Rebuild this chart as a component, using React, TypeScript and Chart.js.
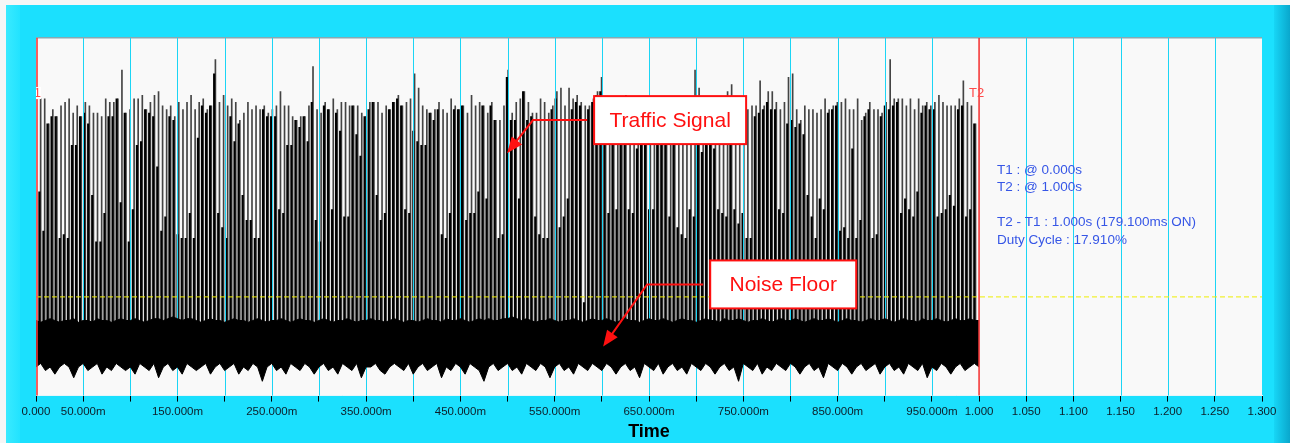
import React, { useEffect, useRef } from "react";
import { Chart, registerables } from "chart.js";

Chart.register(...registerables);

// ---------- data ----------
// pulse times (ms)
const pulseTimes = [
  4.4, 8.7, 13.0, 17.3, 21.6, 26.0, 30.3, 34.6, 38.9, 43.2,
  47.5, 51.8, 56.1, 60.4, 64.7, 69.1, 73.4, 77.7, 82.0, 86.3,
  90.6, 94.9, 99.2, 103.5, 107.8, 112.2, 116.5, 120.8, 125.1, 129.4,
  133.7, 138.0, 142.3, 146.6, 150.9, 155.3, 159.6, 163.9, 168.2, 172.5,
  176.8, 181.1, 185.4, 189.7, 194.0, 198.4, 202.7, 207.0, 211.3, 215.6,
  219.9, 224.2, 228.5, 232.8, 237.1, 241.5, 245.8, 250.1, 254.4, 258.7,
  263.0, 267.3, 271.6, 275.9, 280.2, 284.6, 288.9, 293.2, 297.5, 301.8,
  306.1, 310.4, 314.7, 319.0, 323.3, 327.7, 332.0, 336.3, 340.6, 344.9,
  349.2, 353.5, 357.8, 362.1, 366.4, 370.8, 375.1, 379.4, 383.7, 388.0,
  392.3, 396.6, 400.9, 405.2, 409.5, 413.9, 418.2, 422.5, 426.8, 431.1,
  435.4, 439.7, 444.0, 448.3, 452.6, 457.0, 461.3, 465.6, 469.9, 474.2,
  478.5, 482.8, 487.1, 491.4, 495.7, 500.1, 504.4, 508.7, 513.0, 517.3,
  521.6, 525.9, 530.2, 534.5, 538.8, 543.2, 547.5, 551.8, 556.1, 560.4,
  564.7, 569.0, 573.3, 577.6, 581.9, 586.3, 590.6, 594.9, 599.2, 603.5,
  607.8, 612.1, 616.4, 620.7, 625.0, 629.4, 633.7, 638.0, 642.3, 646.6,
  650.9, 655.2, 659.5, 663.8, 668.1, 672.5, 676.8, 681.1, 685.4, 689.7,
  694.0, 698.3, 702.6, 706.9, 711.2, 715.6, 719.9, 724.2, 728.5, 732.8,
  737.1, 741.4, 745.7, 750.0, 754.3, 758.7, 763.0, 767.3, 771.6, 775.9,
  780.2, 784.5, 788.8, 793.1, 797.4, 801.8, 806.1, 810.4, 814.7, 819.0,
  823.3, 827.6, 831.9, 836.2, 840.5, 844.9, 849.2, 853.5, 857.8, 862.1,
  866.4, 870.7, 875.0, 879.3, 883.6, 888.0, 892.3, 896.6, 900.9, 905.2,
  909.5, 913.8, 918.1, 922.4, 926.7, 931.1, 935.4, 939.7, 944.0, 948.3,
  952.6, 956.9, 961.2, 965.5, 969.8, 974.2, 978.5, 982.8, 987.1, 991.4,
  995.7,
];

// peak level of each pulse (thin trace)
const pulsePeaks = [
  83, 83, 76, 80, 78, 81, 82, 83, 79, 81,
  78, 82, 81, 79, 79, 78, 83, 82, 82, 83,
  91, 79, 80, 83, 83, 84, 80, 82, 84, 85,
  81, 80, 81, 78, 82, 80, 82, 84, 80, 82,
  83, 80, 81, 94, 82, 84, 81, 83, 82, 77,
  79, 82, 80, 81, 80, 81, 79, 80, 81, 85,
  81, 81, 78, 77, 78, 78, 81, 92, 80, 79,
  82, 80, 83, 80, 82, 82, 81,
  81, 81, 79, 78, 82, 82, 82, 79, 81, 80,
  82, 84, 81, 82, 83, 90, 86, 81, 80, 79,
  80, 82, 80, 79, 83, 81, 80, 81, 79, 84,
  81, 82, 81, 79, 82, 77, 77, 81, 91, 79,
  82, 83, 85, 82, 79, 79, 83, 82, 79, 81,
  85, 86, 81, 86, 83, 84, 82, 81, 81, 83, 85, 89,
  82, 81, 83, 80, 82, 84, 81, 80, 82, 83, 81, 82, 80, 83, 81,
  82, 81, 83, 80, 82, 81, 83, 91, 86, 82, 81, 83, 80, 82, 81, 85, 87, 82, 80,
  82, 80, 81, 81, 88, 81, 85, 85, 82, 80,
  82, 89, 90, 80, 77, 81, 80, 80, 79, 80,
  83, 80, 81, 82, 82, 83, 80, 80, 83, 77,
  79, 82, 80, 80, 79, 82, 94, 83, 83, 83,
  81, 83, 80, 83, 81, 82, 81, 82, 84, 82,
  81, 81, 81, 83, 88, 82, 81, 76,
];

// level of the solid body of each pulse
const pulseBodies = [
  57, 46, 76, 78, 78, 44, 45, 44, 70, 70,
  78, 79, 76, 56, 43, 43, 51, 78, 78, 83,
  54, 79, 43, 52, 70, 71, 80, 79, 78, 64,
  46, 50, 78, 77, 45, 44, 44, 51, 44, 72,
  81, 79, 81, 90, 51, 47, 44, 78, 71, 76,
  56, 49, 49, 44, 44, 80, 78, 78, 78, 52,
  51, 70, 70, 77, 75, 78, 71, 82, 49, 43,
  81, 80, 52, 79, 74, 50, 50,
  81, 73, 67, 78, 80, 82, 56, 49, 51, 80,
  82, 83, 81, 52, 51, 74, 71, 70, 70, 79,
  77, 80, 45, 44, 51, 80, 80, 81, 49, 51,
  51, 57, 81, 55, 81, 77, 44, 45, 89, 77,
  77, 55, 85, 77, 78, 50, 45, 44, 44, 80,
  83, 47, 50, 55, 80, 82, 81, 26, 80, 82, 84, 85,
  70, 51, 70, 52, 70, 71, 52, 51, 69, 70, 70, 52, 52, 70, 71,
  70, 50, 70, 47, 45, 44, 52, 50, 83, 68, 70, 71, 69, 52, 51, 50, 77, 52, 48,
  51, 44, 44, 78, 79, 80, 82, 80, 80, 52,
  51, 76, 77, 75, 76, 73, 56, 50, 44, 55,
  52, 79, 80, 81, 46, 47, 44, 69, 44, 49,
  78, 80, 44, 45, 78, 81, 80, 81, 82, 51,
  55, 52, 50, 57, 79, 81, 80, 80, 50, 51,
  52, 56, 53, 80, 81, 50, 52, 76,
];

const signalBase = 15;

// noise floor envelope, sampled every 5 ms
const noiseTimes = [
  0, 5, 10, 15, 20, 25, 30, 35, 40, 45, 50, 55, 60, 65, 70, 75, 80, 85, 90, 95,
  100, 105, 110, 115, 120, 125, 130, 135, 140, 145, 150, 155, 160, 165, 170, 175, 180, 185, 190, 195,
  200, 205, 210, 215, 220, 225, 230, 235, 240, 245, 250, 255, 260, 265, 270, 275, 280, 285, 290, 295,
  300, 305, 310, 315, 320, 325, 330, 335, 340, 345, 350, 355, 360, 365, 370, 375, 380, 385, 390, 395,
  400, 405, 410, 415, 420, 425, 430, 435, 440, 445, 450, 455, 460, 465, 470, 475, 480, 485, 490, 495,
  500, 505, 510, 515, 520, 525, 530, 535, 540, 545, 550, 555, 560, 565, 570, 575, 580, 585, 590, 595,
  600, 605, 610, 615, 620, 625, 630, 635, 640, 645, 650, 655, 660, 665, 670, 675, 680, 685, 690, 695,
  700, 705, 710, 715, 720, 725, 730, 735, 740, 745, 750, 755, 760, 765, 770, 775, 780, 785, 790, 795,
  800, 805, 810, 815, 820, 825, 830, 835, 840, 845, 850, 855, 860, 865, 870, 875, 880, 885, 890, 895,
  900, 905, 910, 915, 920, 925, 930, 935, 940, 945, 950, 955, 960, 965, 970, 975, 980, 985, 990, 995,
  1000,
];
const noiseHigh = [
  21, 20.5, 21, 21.5, 21, 20.5, 21, 21, 21.5, 20.5, 21, 21, 20.5, 21.5, 21, 21, 20.5, 21, 21.5, 21,
  21, 21.5, 21, 20.5, 21, 21.5, 21.5, 21, 21.5, 22, 21.5, 21, 21.5, 21.5, 21, 20.5, 21, 21.5, 21, 21,
  20.5, 21, 21.5, 21, 21, 20.5, 21, 21.5, 21, 20.5, 21, 21, 21.5, 21, 20.5, 21, 21.5, 21, 21, 20.5,
  21, 21.5, 21, 20.5, 21, 21, 21.5, 21, 20.5, 21, 21, 21.5, 21, 21, 20.5, 21, 21.5, 21, 20.5, 21,
  21, 20.5, 21, 21.5, 21, 21, 20.5, 21.5, 21, 21, 21.5, 21, 20.5, 21, 21.5, 21, 21.5, 21, 21, 21.5,
  21.5, 22, 21.5, 21, 21.5, 21, 20.5, 21, 21, 21.5, 21, 20.5, 21, 21, 21.5, 21, 20.5, 21, 21.5, 21,
  21, 21.5, 21, 20.5, 21, 21.5, 21, 21, 20.5, 21, 21.5, 21, 21, 21.5, 21, 20.5, 21, 21.5, 21, 21,
  20.5, 21, 21.5, 21, 21, 20.5, 21.5, 21, 21, 21.5, 21, 20.5, 21, 21, 21.5, 21, 20.5, 21, 21.5, 21,
  21, 21.5, 21, 20.5, 21, 21.5, 21, 21, 21.5, 21, 20.5, 21, 21.5, 21, 21, 20.5, 21, 21.5, 21, 21,
  21.5, 21, 20.5, 21, 21.5, 21, 21, 20.5, 21.5, 21, 21, 21.5, 21, 20.5, 21, 21.5, 21, 21, 21.5, 21,
  21,
];
const noiseLow = [
  8, 9, 7, 8, 6, 8, 9, 8, 5, 8, 9, 7, 8, 9, 6, 8, 7, 9, 8, 7,
  8, 6, 9, 8, 7, 9, 5, 8, 9, 7, 8, 6, 9, 8, 7, 8, 9, 6, 8, 9,
  7, 8, 9, 6, 8, 7, 9, 8, 4, 8, 9, 7, 8, 6, 9, 8, 7, 9, 8, 6,
  8, 9, 7, 8, 6, 9, 8, 7, 9, 5, 8, 8, 9, 7, 6, 8, 9, 8, 7, 9,
  6, 8, 9, 7, 8, 9, 5, 8, 7, 9, 8, 6, 9, 8, 7, 4, 8, 9, 7, 8,
  9, 7, 8, 6, 9, 8, 7, 9, 8, 5, 8, 9, 7, 8, 6, 9, 8, 7, 9, 8,
  7, 9, 8, 6, 8, 9, 7, 8, 5, 9, 8, 7, 9, 6, 8, 9, 7, 8, 6, 9,
  8, 7, 9, 8, 6, 8, 9, 7, 8, 4, 9, 8, 7, 9, 6, 8, 7, 9, 8, 7,
  9, 8, 6, 8, 9, 7, 8, 5, 9, 8, 7, 9, 8, 6, 8, 9, 7, 8, 9, 6,
  8, 9, 7, 8, 6, 9, 8, 7, 9, 5, 8, 7, 9, 8, 6, 8, 9, 7, 8, 9,
  8,
];

// threshold (yellow dashed)
const thresholdTimes = [0, 1.3];
const thresholdLevels = [27.6, 27.6];

// cursors
const cursorTimes = [0, 1.0];
const cursorLabels = ["T1", "T2"];

const infoLines = [
  "T1 : @ 0.000s",
  "T2 : @ 1.000s",
  "",
  "T2 - T1 : 1.000s (179.100ms ON)",
  "Duty Cycle : 17.910%",
];

const xAxisTitle = "Time";

// callouts: box anchor (time s, level), elbow & tip in data coords
const callouts = [
  { text: "Traffic Signal", box: [0.5918, 83.75], w: 152, h: 48, elbow: [0.527, 76.75], tip: [0.4995, 67.8] },
  { text: "Noise Floor", box: [0.7149, 37.8], w: 146, h: 48, elbow: [0.648, 31.1], tip: [0.6014, 13.7] },
];

const FONT = 'Arial, "Liberation Sans", sans-serif';

function tickLabel(v: number): string {
  const ms = Math.round(v * 1000);
  if (ms === 0) return "0.000";
  if (ms < 1000) return ms % 100 === 50 ? ms.toFixed(3) + "m" : "";
  return (ms / 1000).toFixed(3);
}

const decorPlugin = {
  id: "decor",
  beforeDraw(chart: any) {
    const { ctx, chartArea } = chart;
    const { left, top, right, bottom } = chartArea;
    ctx.save();
    ctx.fillStyle = "#f9f9f9";
    ctx.fillRect(left, top, right - left, bottom - top);
    ctx.fillStyle = "#86aab3";
    ctx.fillRect(left, top - 1, right - left, 1.5);
    ctx.restore();
  },
  afterDatasetDraw(chart: any, args: any) {
    if (args.index !== 1) return;
    const { ctx, chartArea } = chart;
    const xs = chart.scales.x;
    ctx.save();
    ctx.strokeStyle = "#1cd5f5";
    ctx.lineWidth = 1;
    xs.ticks.forEach((t: any) => {
      const v = Math.round(t.value * 1000);
      if (v === 0 || v === 1000 || v === 1300) return;
      const px = Math.round(xs.getPixelForValue(t.value)) + 0.5;
      ctx.beginPath();
      ctx.moveTo(px, chartArea.top);
      ctx.lineTo(px, chartArea.bottom);
      ctx.stroke();
    });
    ctx.restore();
  },
  afterDatasetsDraw(chart: any) {
    const { ctx, chartArea } = chart;
    const xs = chart.scales.x;
    const ys = chart.scales.y;
    ctx.save();
    // cursors
    cursorTimes.forEach((t, i) => {
      const px = xs.getPixelForValue(t) + (i === 0 ? 1 : 0);
      ctx.strokeStyle = "#f43a3a";
      ctx.lineWidth = 1.6;
      ctx.beginPath();
      ctx.moveTo(px, chartArea.top);
      ctx.lineTo(px, chartArea.bottom);
      ctx.stroke();
    });
    // cursor labels
    ctx.save();
    ctx.beginPath();
    ctx.rect(chartArea.left, chartArea.top, chartArea.right - chartArea.left, chartArea.bottom - chartArea.top);
    ctx.clip();
    ctx.font = "13px " + FONT;
    ctx.textBaseline = "middle";
    const yLab = ys.getPixelForValue(84.6);
    const p0 = xs.getPixelForValue(cursorTimes[0]);
    ctx.textAlign = "right";
    const w1 = ctx.measureText(cursorLabels[0]).width;
    ctx.fillStyle = "#ffffff";
    ctx.fillRect(p0 + 5 - w1, yLab - 6, w1, 12);
    ctx.fillStyle = "#ff4a4a";
    ctx.fillText(cursorLabels[0], p0 + 5, yLab);
    const p1 = xs.getPixelForValue(cursorTimes[1]);
    ctx.textAlign = "left";
    ctx.fillText(cursorLabels[1], p1 - 10, yLab);
    ctx.restore();
    // info text
    ctx.font = "13.5px " + FONT;
    ctx.fillStyle = "#3656e6";
    ctx.textAlign = "left";
    ctx.textBaseline = "middle";
    const ix = p1 + 18;
    const iy0 = 170;
    const lineH = 17.5;
    infoLines.forEach((line, i) => {
      if (line) ctx.fillText(line, ix, iy0 + i * lineH);
    });
    ctx.restore();
  },
  afterDraw(chart: any) {
    const { ctx } = chart;
    const xs = chart.scales.x;
    const ys = chart.scales.y;
    ctx.save();
    callouts.forEach((c) => {
      const bx = xs.getPixelForValue(c.box[0]);
      const by = ys.getPixelForValue(c.box[1]);
      const ex = xs.getPixelForValue(c.elbow[0]);
      const tx = xs.getPixelForValue(c.tip[0]);
      const ty = ys.getPixelForValue(c.tip[1]);
      const midY = by + c.h / 2;
      const dx = tx - ex;
      const dy = ty - midY;
      const len = Math.hypot(dx, dy);
      const ux = dx / len;
      const uy = dy / len;
      const headLen = 16;
      const headW = 6.5;
      ctx.strokeStyle = "#ff1010";
      ctx.lineWidth = 2;
      ctx.beginPath();
      ctx.moveTo(bx - 7, midY);
      ctx.lineTo(ex, midY);
      ctx.lineTo(tx - ux * (headLen - 2), ty - uy * (headLen - 2));
      ctx.stroke();
      ctx.fillStyle = "#ff1010";
      ctx.beginPath();
      ctx.moveTo(tx, ty);
      ctx.lineTo(tx - ux * headLen - uy * headW, ty - uy * headLen + ux * headW);
      ctx.lineTo(tx - ux * headLen + uy * headW, ty - uy * headLen - ux * headW);
      ctx.closePath();
      ctx.fill();
      ctx.fillStyle = "#ffffff";
      ctx.fillRect(bx, by, c.w, c.h);
      ctx.strokeStyle = "#ff1010";
      ctx.lineWidth = 2;
      ctx.strokeRect(bx, by, c.w, c.h);
      ctx.fillStyle = "#ff1010";
      ctx.font = "21px " + FONT;
      ctx.textAlign = "center";
      ctx.textBaseline = "middle";
      ctx.fillText(c.text, bx + c.w / 2, by + c.h / 2 + 1);
    });
    ctx.restore();
  },
};

export default function App() {
  const canvasRef = useRef<HTMLCanvasElement | null>(null);

  useEffect(() => {
    if (!canvasRef.current) return;
    Chart.defaults.font.family = FONT;
    const peakData = pulseTimes.map((t, i) => ({ x: t / 1000, y: [signalBase, pulsePeaks[i]] }));
    const bodyData = pulseTimes.map((t, i) => ({ x: t / 1000, y: [signalBase, pulseBodies[i]] }));
    const lowData = noiseTimes.map((t, i) => ({ x: t / 1000, y: noiseLow[i] }));
    const highData = noiseTimes.map((t, i) => ({ x: t / 1000, y: noiseHigh[i] }));
    const thrData = thresholdTimes.map((t, i) => ({ x: t, y: thresholdLevels[i] }));

    const chart = new Chart(canvasRef.current, {
      type: "bar",
      data: {
        datasets: [
          {
            type: "bar",
            label: "peak",
            data: peakData as any,
            backgroundColor: "#444444",
            barThickness: 1,
            borderWidth: 0,
            order: 5,
          },
          {
            type: "bar",
            label: "body",
            data: bodyData as any,
            backgroundColor: "#000000",
            barThickness: 1.5,
            borderWidth: 0,
            order: 4,
          },
          {
            type: "line",
            label: "noiseLow",
            data: lowData as any,
            borderColor: "#000000",
            borderWidth: 1,
            pointRadius: 0,
            fill: false,
            tension: 0,
            order: 3,
          },
          {
            type: "line",
            label: "noiseHigh",
            data: highData as any,
            borderColor: "#000000",
            backgroundColor: "#000000",
            borderWidth: 1,
            pointRadius: 0,
            fill: "-1",
            tension: 0,
            order: 2,
          },
          {
            type: "line",
            label: "threshold",
            data: thrData as any,
            borderColor: "#eeee00",
            borderWidth: 1,
            borderDash: [5, 3],
            pointRadius: 0,
            fill: false,
            order: 1,
          },
        ],
      },
      options: {
        animation: false,
        responsive: false,
        devicePixelRatio: 1,
        layout: { padding: { left: 36, right: 28, top: 38, bottom: 0 } },
        plugins: {
          legend: { display: false },
          tooltip: { enabled: false },
        },
        scales: {
          x: {
            type: "linear",
            min: 0,
            max: 1.3,
            offset: false,
            grid: {
              drawOnChartArea: false,
              drawTicks: true,
              tickLength: 6,
              tickColor: "#000000",
              tickWidth: 1,
              offset: false,
            },
            border: { display: true, color: "#e6f6fa", width: 1 },
            ticks: {
              stepSize: 0.05,
              autoSkip: false,
              maxRotation: 0,
              minRotation: 0,
              padding: 3,
              color: "#0d1d28",
              font: { size: 11.5, family: FONT },
              callback: (v: any) => tickLabel(Number(v)),
            },
            title: {
              display: true,
              text: xAxisTitle,
              color: "#000000",
              font: { size: 18, weight: "bold", family: FONT },
              padding: { top: 0, bottom: 0 },
            },
          },
          y: {
            display: false,
            min: 0,
            max: 100,
          },
        },
      },
      plugins: [decorPlugin],
    } as any);
    return () => chart.destroy();
  }, []);

  return (
    <div
      style={{
        position: "absolute",
        left: 0,
        top: 0,
        width: 1290,
        height: 443,
        background: "#f6f6f6",
        overflow: "hidden",
      }}
    >
      <div style={{ position: "absolute", left: 6, top: 5, width: 1284, height: 438, background: "#1be0fe" }} />
      <div
        style={{
          position: "absolute",
          left: 6,
          top: 5,
          width: 14,
          height: 438,
          background: "linear-gradient(to right, #3aeaff, #22e3ff)",
        }}
      />
      <div
        style={{
          position: "absolute",
          left: 1274,
          top: 5,
          width: 16,
          height: 438,
          background: "linear-gradient(to right, #17d6f6, #0aa7cc)",
        }}
      />
      <canvas
        ref={canvasRef}
        width={1290}
        height={443}
        style={{ position: "absolute", left: 0, top: 0, width: 1290, height: 443 }}
      />
    </div>
  );
}
